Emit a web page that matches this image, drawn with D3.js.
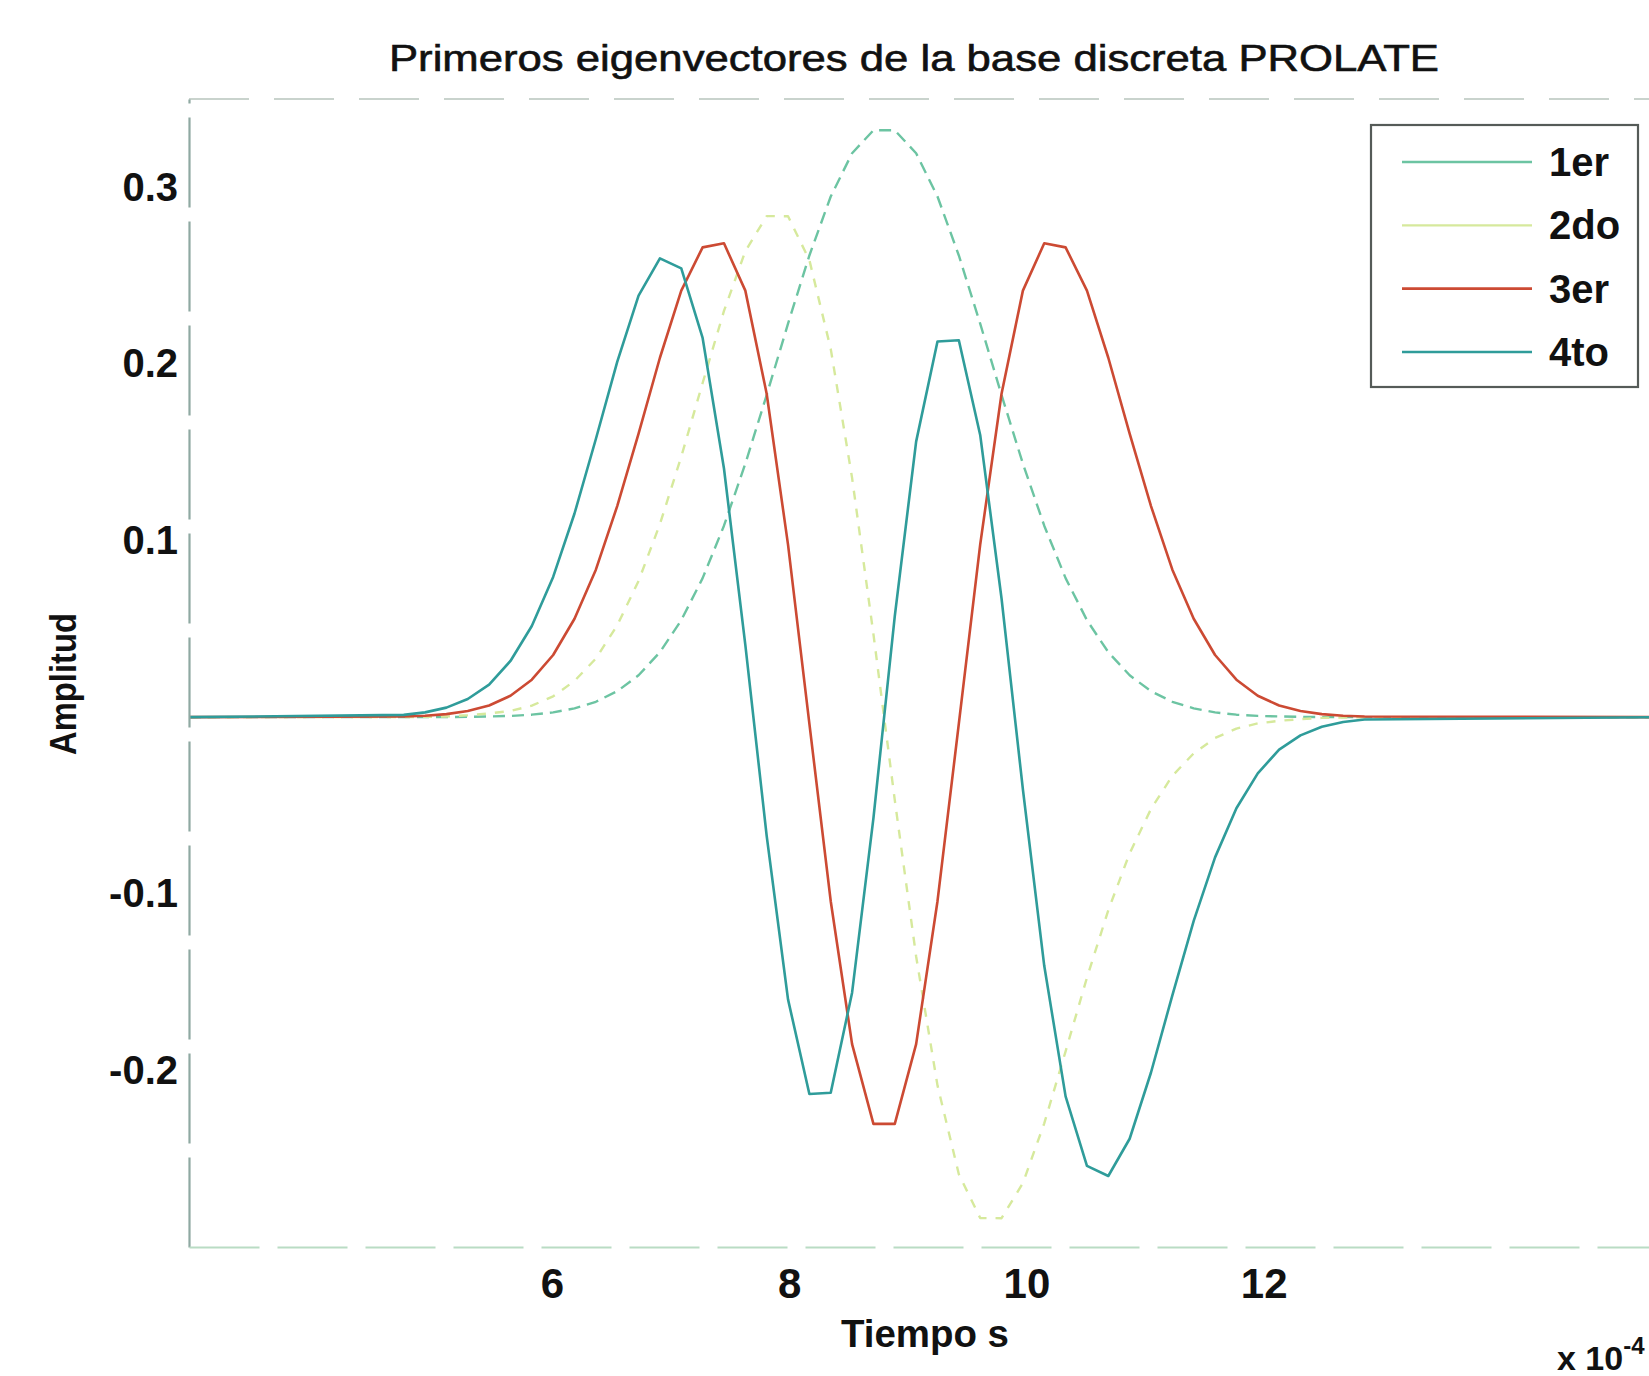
<!DOCTYPE html>
<html>
<head>
<meta charset="utf-8">
<script src="https://cdn.jsdelivr.net/npm/d3@7"></script>
<style>
  html, body { margin: 0; padding: 0; background: #ffffff; overflow: hidden; }
  svg { display: block; font-family: "Liberation Sans", Arial, Helvetica, sans-serif; }
</style>
</head>
<body>
<svg id="chart" width="1649" height="1376"></svg>
<script>
// Tiempo en unidades de 1e-4 s
const tiempo = [2.94, 4.75, 4.93, 5.11, 5.29, 5.47, 5.65, 5.83, 6.01, 6.19, 6.37, 6.55, 6.73, 6.91, 7.09, 7.27, 7.45, 7.63, 7.81, 7.99, 8.17, 8.35, 8.53, 8.71,
                8.89, 9.07, 9.25, 9.43, 9.61, 9.79, 9.97, 10.15, 10.33, 10.51, 10.69, 10.87, 11.05, 11.23, 11.41, 11.59, 11.77, 11.95, 12.13, 12.31, 12.49, 12.67, 12.85, 15.4];

// Primeros cuatro eigenvectores (amplitud)
const primero = [0, 0.0000, 0.0000, 0.0000, 0.0002, 0.0004, 0.0007, 0.0014, 0.0027, 0.0050, 0.0087, 0.0147, 0.0237, 0.0368, 0.0549, 0.0787, 0.1084, 0.1435, 0.1824, 0.2228, 0.2614, 0.2948, 0.3193, 0.3323,
                 0.3323, 0.3193, 0.2948, 0.2614, 0.2228, 0.1824, 0.1435, 0.1084, 0.0787, 0.0549, 0.0368, 0.0237, 0.0147, 0.0087, 0.0050, 0.0027, 0.0014, 0.0007, 0.0004, 0.0002, 0.0000, 0.0000, 0.0000, 0];

const segundo = [0, 0.0000, 0.0002, 0.0004, 0.0011, 0.0021, 0.0035, 0.0065, 0.0118, 0.0205, 0.0332, 0.0520, 0.0771, 0.1093, 0.1475, 0.1892, 0.2300, 0.2638, 0.2837, 0.2836, 0.2588, 0.2085, 0.1355, 0.0470,
                 -0.0470, -0.1355, -0.2085, -0.2588, -0.2836, -0.2837, -0.2638, -0.2300, -0.1892, -0.1475, -0.1093, -0.0771, -0.0520, -0.0332, -0.0205, -0.0118, -0.0065, -0.0035, -0.0021, -0.0011, -0.0004, -0.0002, 0.0000, 0];

const tercero = [0, 0.0004, 0.0008, 0.0017, 0.0035, 0.0066, 0.0121, 0.0212, 0.0352, 0.0557, 0.0835, 0.1195, 0.1605, 0.2035, 0.2415, 0.2660, 0.2683, 0.2415, 0.1831, 0.0977, -0.0037, -0.1042, -0.1851, -0.2303,
                 -0.2303, -0.1851, -0.1042, -0.0037, 0.0977, 0.1831, 0.2415, 0.2683, 0.2660, 0.2415, 0.2035, 0.1605, 0.1195, 0.0835, 0.0557, 0.0352, 0.0212, 0.0121, 0.0066, 0.0035, 0.0017, 0.0008, 0.0004, 0];

const cuarto = [0, 0.0013, 0.0027, 0.0054, 0.0103, 0.0184, 0.0318, 0.0516, 0.0794, 0.1153, 0.1575, 0.2012, 0.2387, 0.2598, 0.2541, 0.2147, 0.1408, 0.0409, -0.0672, -0.1598, -0.2134, -0.2127, -0.1560, -0.0572,
                0.0572, 0.1560, 0.2127, 0.2134, 0.1598, 0.0672, -0.0409, -0.1408, -0.2147, -0.2541, -0.2598, -0.2387, -0.2012, -0.1575, -0.1153, -0.0794, -0.0516, -0.0318, -0.0184, -0.0103, -0.0054, -0.0027, -0.0013, 0];

const nombres = ["1er", "2do", "3er", "4to"];
const xTicks = [6, 8, 10, 12];
const yTicks = [-0.2, -0.1, 0.1, 0.2, 0.3];

const series = [
  { nombre: nombres[0], valores: primero, color: "#6cc4a2", dash: "12,7", ancho: 2.4 },
  { nombre: nombres[1], valores: segundo, color: "#d6e99c", dash: "9,9",  ancho: 2.4 },
  { nombre: nombres[2], valores: tercero, color: "#cc4a33", dash: null,   ancho: 2.6 },
  { nombre: nombres[3], valores: cuarto,  color: "#2f9c9a", dash: null,   ancho: 2.6 }
];

const svg = d3.select("#chart");

const mIzq = 189, mSup = 99, mInf = 1247, mDer = 1667;
const x = d3.scaleLinear().domain([2.94, 15.4]).range([mIzq, mDer]);
const y = d3.scaleLinear().domain([-0.3, 0.35]).range([mInf, mSup]);

// Marco de los ejes
svg.append("line").attr("x1", mIzq).attr("x2", mDer).attr("y1", mSup).attr("y2", mSup)
  .attr("stroke", "#c9d3cd").attr("stroke-width", 2).attr("stroke-dasharray", "60,25");

const clip = svg.append("defs").append("clipPath").attr("id", "area");
clip.append("rect").attr("x", mIzq).attr("y", mSup).attr("width", mDer - mIzq).attr("height", mInf - mSup);

// Curvas
const linea = d3.line()
  .x((d, i) => x(tiempo[i]))
  .y(d => y(d));

const plot = svg.append("g").attr("clip-path", "url(#area)");
series.forEach(s => {
  plot.append("path")
    .attr("d", linea(s.valores))
    .attr("fill", "none")
    .attr("stroke", s.color)
    .attr("stroke-width", s.ancho)
    .attr("stroke-linejoin", "round")
    .attr("stroke-dasharray", s.dash);
});

// Eje Y
const fmt = d => d3.format(".1f")(d).replace("\u2212", "-");
const ejeY = svg.append("g").attr("transform", `translate(${mIzq},0)`)
  .call(d3.axisLeft(y).tickValues(yTicks).tickSize(0).tickPadding(11).tickFormat(fmt));
ejeY.select(".domain").attr("stroke", "#8fa9a2").attr("stroke-width", 2.2).attr("stroke-dasharray", "90,14");
ejeY.selectAll("text")
  .attr("font-family", "'Liberation Sans', Arial, sans-serif")
  .attr("font-size", 40).attr("font-weight", "bold").attr("fill", "#111");

// Eje X
const ejeX = svg.append("g").attr("transform", `translate(0,${mInf})`)
  .call(d3.axisBottom(x).tickValues(xTicks).tickSize(0).tickPadding(21).tickFormat(d3.format("d")));
ejeX.select(".domain").attr("stroke", "#b9dcc4").attr("stroke-width", 2.2).attr("stroke-dasharray", "70,18");
ejeX.selectAll("text")
  .attr("font-family", "'Liberation Sans', Arial, sans-serif")
  .attr("font-size", 42).attr("font-weight", "bold").attr("fill", "#111");

// Títulos
svg.append("text")
  .attr("x", 914).attr("y", 58)
  .attr("text-anchor", "middle").attr("dominant-baseline", "central")
  .attr("font-size", 36).attr("fill", "#111").attr("stroke", "#111").attr("stroke-width", 0.6)
  .attr("textLength", 1050).attr("lengthAdjust", "spacingAndGlyphs")
  .text("Primeros eigenvectores de la base discreta PROLATE");

svg.append("text")
  .attr("x", 925).attr("y", 1334)
  .attr("text-anchor", "middle").attr("dominant-baseline", "central")
  .attr("font-size", 38).attr("font-weight", "bold").attr("fill", "#111")
  .attr("textLength", 168).attr("lengthAdjust", "spacingAndGlyphs")
  .text("Tiempo s");

svg.append("text")
  .attr("transform", "translate(63,684) rotate(-90)")
  .attr("text-anchor", "middle").attr("dominant-baseline", "central")
  .attr("font-size", 36).attr("font-weight", "bold").attr("fill", "#111")
  .attr("textLength", 142).attr("lengthAdjust", "spacingAndGlyphs")
  .text("Amplitud");

const exp = svg.append("text")
  .attr("x", 1557).attr("y", 1370)
  .attr("font-size", 34).attr("font-weight", "bold").attr("fill", "#111");
exp.append("tspan").text("x 10");
exp.append("tspan").attr("dy", -16).attr("font-size", 24).text("-4");

// Leyenda
const ley = svg.append("g");
ley.append("rect")
  .attr("x", 1371).attr("y", 125).attr("width", 267).attr("height", 262)
  .attr("fill", "#ffffff").attr("stroke", "#555b58").attr("stroke-width", 2.2);
const filas = d3.scaleLinear().domain([0, 3]).range([162, 352]);
series.forEach((s, i) => {
  ley.append("line")
    .attr("x1", 1402).attr("x2", 1532)
    .attr("y1", filas(i)).attr("y2", filas(i))
    .attr("stroke", s.color).attr("stroke-width", s.ancho);
  ley.append("text")
    .attr("x", 1549).attr("y", filas(i))
    .attr("dominant-baseline", "central")
    .attr("font-size", 40).attr("font-weight", "bold").attr("fill", "#111")
    .text(s.nombre);
});
</script>
</body>
</html>
